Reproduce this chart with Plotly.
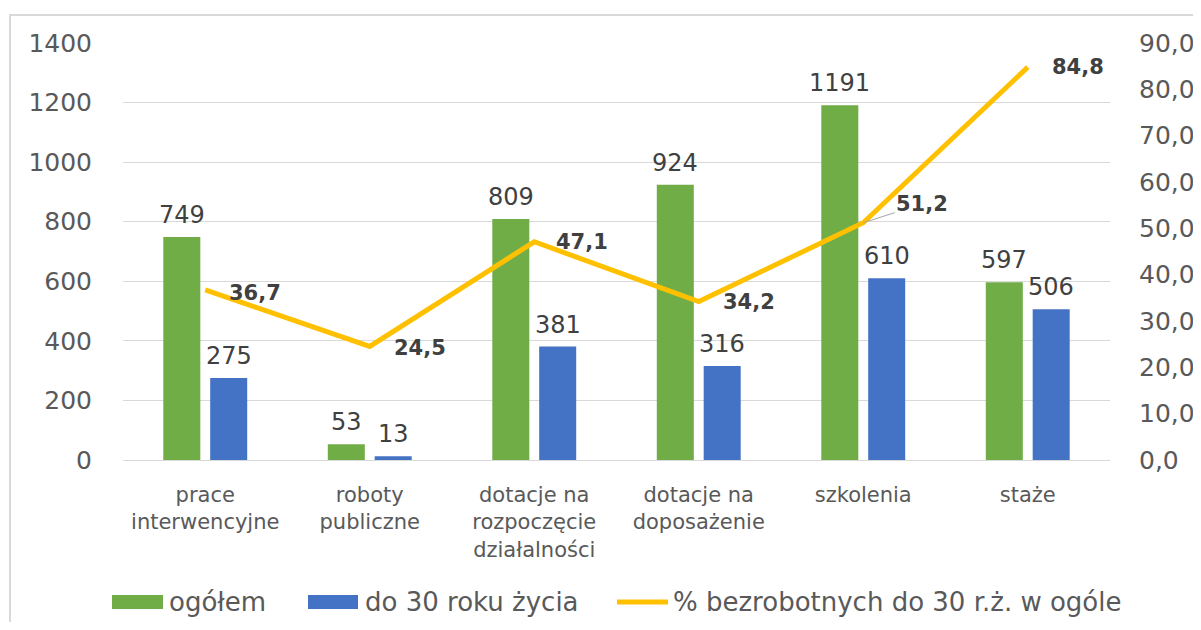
import plotly.graph_objects as go

categories = ["prace<br>interwencyjne", "roboty<br>publiczne", "dotacje na<br>rozpoczęcie<br>działalności",
              "dotacje na<br>doposażenie", "szkolenia", "staże"]
ogolem = [749, 53, 809, 924, 1191, 597]
do30 = [275, 13, 381, 316, 610, 506]
procent = [36.7, 24.5, 47.1, 34.2, 51.2, 84.8]
series_names = ["ogółem", "do 30 roku życia", "% bezrobotnych do 30 r.ż. w ogóle"]

FONT = "DejaVu Sans"
GREEN = "#70AD47"
BLUE = "#4472C4"
GOLD = "#FFC000"
xs = list(range(len(categories)))

# plot area in page pixels (page has an 8px body margin)
PL, PR, PT, PB = 123, 1110, 43, 460
PW, PH = PR - PL, PB - PT
FIG_W, FIG_H = 1193, 614


def px2paper_x(px):
    return (px - PL) / PW


def py2paper_y(py):
    return (PB - py) / PH


BW = 0.225
fig = go.Figure()
fig.add_trace(go.Bar(
    x=xs, y=ogolem, name=series_names[0], marker=dict(color=GREEN, line=dict(width=0)),
    width=BW, offset=-0.255, showlegend=False,
))
fig.add_trace(go.Bar(
    x=xs, y=do30, name=series_names[1], marker=dict(color=BLUE, line=dict(width=0)),
    width=BW, offset=0.03, showlegend=False,
))
fig.add_trace(go.Scatter(
    x=xs, y=procent, name=series_names[2], mode="lines",
    line=dict(color=GOLD, width=5), yaxis="y2", cliponaxis=False, showlegend=False,
))

# bar value labels
for i, v in enumerate(ogolem):
    fig.add_annotation(x=i - 0.255 + BW / 2, y=v, xref="x", yref="y", text=str(v), showarrow=False,
                       yanchor="bottom", yshift=6, font=dict(family=FONT, size=24, color="#404040"))
for i, v in enumerate(do30):
    fig.add_annotation(x=i + 0.03 + BW / 2, y=v, xref="x", yref="y", text=str(v), showarrow=False,
                       yanchor="bottom", yshift=6, font=dict(family=FONT, size=24, color="#404040"))

# line labels
shifts = [(22, -3), (22, -2), (20, 0), (22, 0), None, (22, 0)]
for i, v in enumerate(procent):
    txt = f"{v:.1f}".replace(".", ",")
    if shifts[i] is None:
        fig.add_annotation(x=i, y=v, xref="x", yref="y2", text=txt, showarrow=True,
                           ax=59, ay=-19, arrowhead=0, arrowwidth=1, arrowcolor="#A6A6A6",
                           font=dict(family=FONT, size=21, color="#404040", weight="bold"))
    else:
        dx, dy = shifts[i]
        fig.add_annotation(x=i, y=v, xref="x", yref="y2", text=txt, showarrow=False,
                           xanchor="left", yanchor="middle", xshift=dx, yshift=dy,
                           font=dict(family=FONT, size=21, color="#404040", weight="bold"))

# chart outline
fig.add_shape(type="rect", xref="paper", yref="paper",
              x0=px2paper_x(10), x1=px2paper_x(1240),
              y0=py2paper_y(660), y1=py2paper_y(15),
              line=dict(color="#D9D9D9", width=2), fillcolor="rgba(0,0,0,0)", layer="below")

# legend (drawn)
LY = 602
fig.add_shape(type="rect", xref="paper", yref="paper", x0=px2paper_x(112), x1=px2paper_x(163),
              y0=py2paper_y(LY + 7), y1=py2paper_y(LY - 7), fillcolor=GREEN, line=dict(width=0))
fig.add_shape(type="rect", xref="paper", yref="paper", x0=px2paper_x(308), x1=px2paper_x(358),
              y0=py2paper_y(LY + 7), y1=py2paper_y(LY - 7), fillcolor=BLUE, line=dict(width=0))
fig.add_shape(type="line", xref="paper", yref="paper", x0=px2paper_x(617), x1=px2paper_x(668),
              y0=py2paper_y(LY), y1=py2paper_y(LY), line=dict(color=GOLD, width=5))
for name, lx in zip(series_names, [167, 363, 671]):
    fig.add_annotation(x=px2paper_x(lx), y=py2paper_y(LY), xref="paper", yref="paper", text=name,
                       showarrow=False, xanchor="left", yanchor="middle",
                       font=dict(family=FONT, size=26, color="#595959"))

fig.update_layout(
    width=FIG_W, height=FIG_H,
    margin=dict(l=PL - 8, r=FIG_W - (PR - 8), t=PT - 8, b=FIG_H - (PB - 8), autoexpand=False),
    paper_bgcolor="white", plot_bgcolor="white",
    separators=", ",
    barmode="overlay",
    font=dict(family=FONT, color="#595959"),
    xaxis=dict(tickmode="array", tickvals=xs, ticktext=categories, range=[-0.5, 5.5],
               showgrid=False, zeroline=False, showline=False, ticks="", automargin=False,
               tickfont=dict(family=FONT, size=21, color="#595959"), ticklabelstandoff=20),
    yaxis=dict(range=[0, 1400], dtick=200, showgrid=True, gridcolor="#D9D9D9", gridwidth=1,
               zeroline=True, zerolinecolor="#D9D9D9", zerolinewidth=1, showline=False,
               automargin=False,
               tickfont=dict(family=FONT, size=25, color="#595959"), ticklabelstandoff=30),
    yaxis2=dict(range=[0, 90], dtick=10, overlaying="y", side="right", showgrid=False,
                zeroline=False, showline=False, tickformat=".1f", automargin=False,
                tickfont=dict(family=FONT, size=25, color="#595959"), ticklabelstandoff=28),
    showlegend=False,
)

fig.write_html("out.html")
